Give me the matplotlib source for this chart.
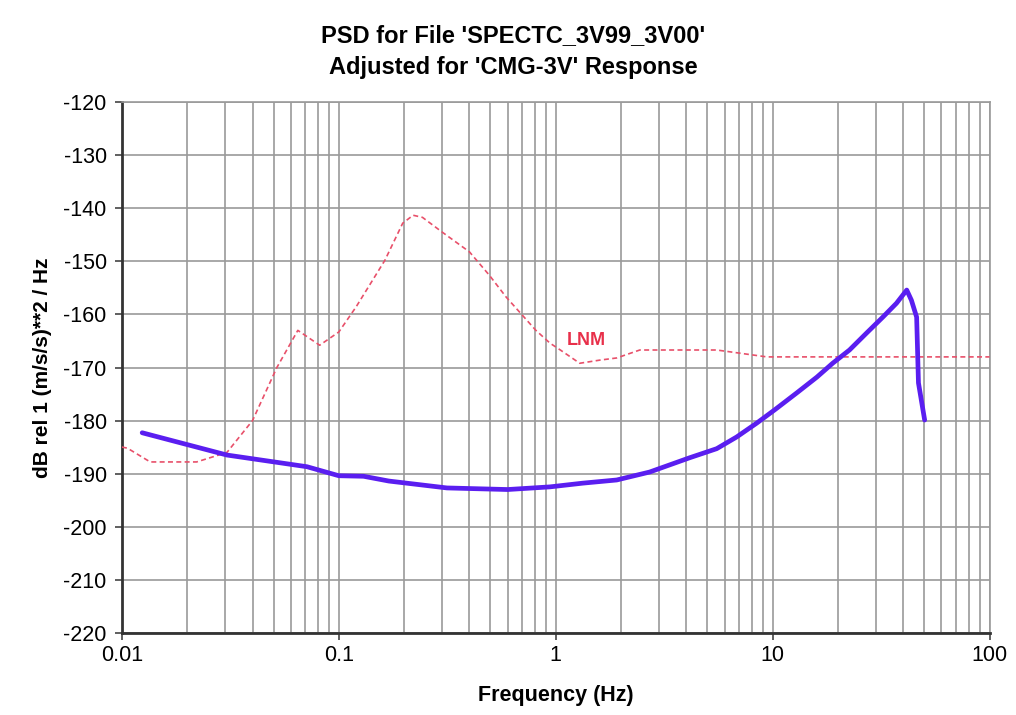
import numpy as np
import matplotlib
matplotlib.use('Agg')
import matplotlib.pyplot as plt
from matplotlib.ticker import LogLocator, NullFormatter

plt.rcParams['font.family'] = ['Liberation Sans', 'DejaVu Sans']

# PSD of the recording
psd_freq = [0.0124, 0.0305, 0.0713, 0.1, 0.13, 0.17, 0.315, 0.6, 0.94, 1.33, 1.91,
            2.71, 4.15, 5.52, 6.82, 8.43, 10.2, 12.9, 16.0, 18.9, 22.6, 27.1, 32.2,
            37.2, 41.5, 43.6, 46.1, 47.0, 50.2]
psd_db = [-182.3, -186.5, -188.7, -190.4, -190.5, -191.4, -192.7, -193.0, -192.5, -191.8, -191.2,
          -189.7, -187.0, -185.3, -183.1, -180.5, -178.0, -174.8, -171.8, -169.2, -166.7, -163.5, -160.5,
          -157.9, -155.4, -157.3, -160.5, -172.9, -179.9]

# low noise model
lnm_freq = [0.01, 0.0106, 0.0135, 0.0221, 0.0305, 0.04, 0.0518, 0.0647, 0.0816, 0.1,
            0.12, 0.163, 0.197, 0.22, 0.243, 0.30, 0.40, 0.494, 0.59, 0.70, 0.81, 0.94,
            1.05, 1.29, 1.6, 1.91, 2.44, 5.52, 9.4, 100]
lnm_db = [-185.0, -185.2, -187.8, -187.8, -186.0, -180.0, -170.0, -163.0, -165.8, -163.3,
          -158.6, -149.8, -142.8, -141.3, -141.7, -144.5, -148.2, -152.6, -156.7, -160.1, -163.0, -165.4,
          -166.7, -169.2, -168.6, -168.2, -166.7, -166.7, -168.0, -168.0]

yticks = list(range(-220, -119, 10))
xticks = [0.01, 0.1, 1, 10, 100]
xlabels = ['0.01', '0.1', '1', '10', '100']

fig = plt.figure(figsize=(10.16, 7.15), dpi=100)
ax = fig.add_axes([0.120, 0.115, 0.854, 0.742])

ax.plot(lnm_freq, lnm_db, color='#e8506a', linestyle=(0, (3, 2)), linewidth=1.2, zorder=3)
ax.plot(psd_freq, psd_db, color='#5a1ef0', linewidth=3.4, solid_joinstyle='round',
        solid_capstyle='round', zorder=4)

ax.text(1.38, -165.0, 'LNM', color='#e8304a', fontsize=13, fontweight='bold',
        ha='center', va='center')

ax.set_xscale('log')
ax.set_xlim(0.01, 100)
ax.set_ylim(-220, -120)
ax.set_xticks(xticks)
ax.set_xticklabels(xlabels)
ax.xaxis.set_minor_locator(LogLocator(base=10, subs=np.arange(2, 10)))
ax.xaxis.set_minor_formatter(NullFormatter())
ax.set_yticks(yticks)
ax.set_yticklabels([str(v) for v in yticks])

ax.grid(True, which='both', axis='x', color='#9a9a9a', linewidth=1.2)
ax.grid(True, which='major', axis='y', color='#9a9a9a', linewidth=1.2)
ax.tick_params(which='major', labelsize=15.5, length=5, width=1.2, color='#444444')
ax.tick_params(axis='y', pad=6)
ax.tick_params(which='minor', length=0)

for side in ['left', 'bottom']:
    ax.spines[side].set_linewidth(2)
    ax.spines[side].set_color('#333333')
for side in ['top', 'right']:
    ax.spines[side].set_linewidth(1.2)
    ax.spines[side].set_color('#9a9a9a')

fig.text(0.505, 0.928, "PSD for File 'SPECTC_3V99_3V00'\nAdjusted for 'CMG-3V' Response",
         fontsize=17, fontweight='bold', ha='center', va='center', linespacing=1.45)
ax.set_xlabel('Frequency (Hz)', fontsize=15.5, fontweight='bold', labelpad=14)
ax.set_ylabel('dB rel 1 (m/s/s)**2 / Hz', fontsize=15, fontweight='bold', labelpad=8)

fig.savefig('out.png', dpi=100)
